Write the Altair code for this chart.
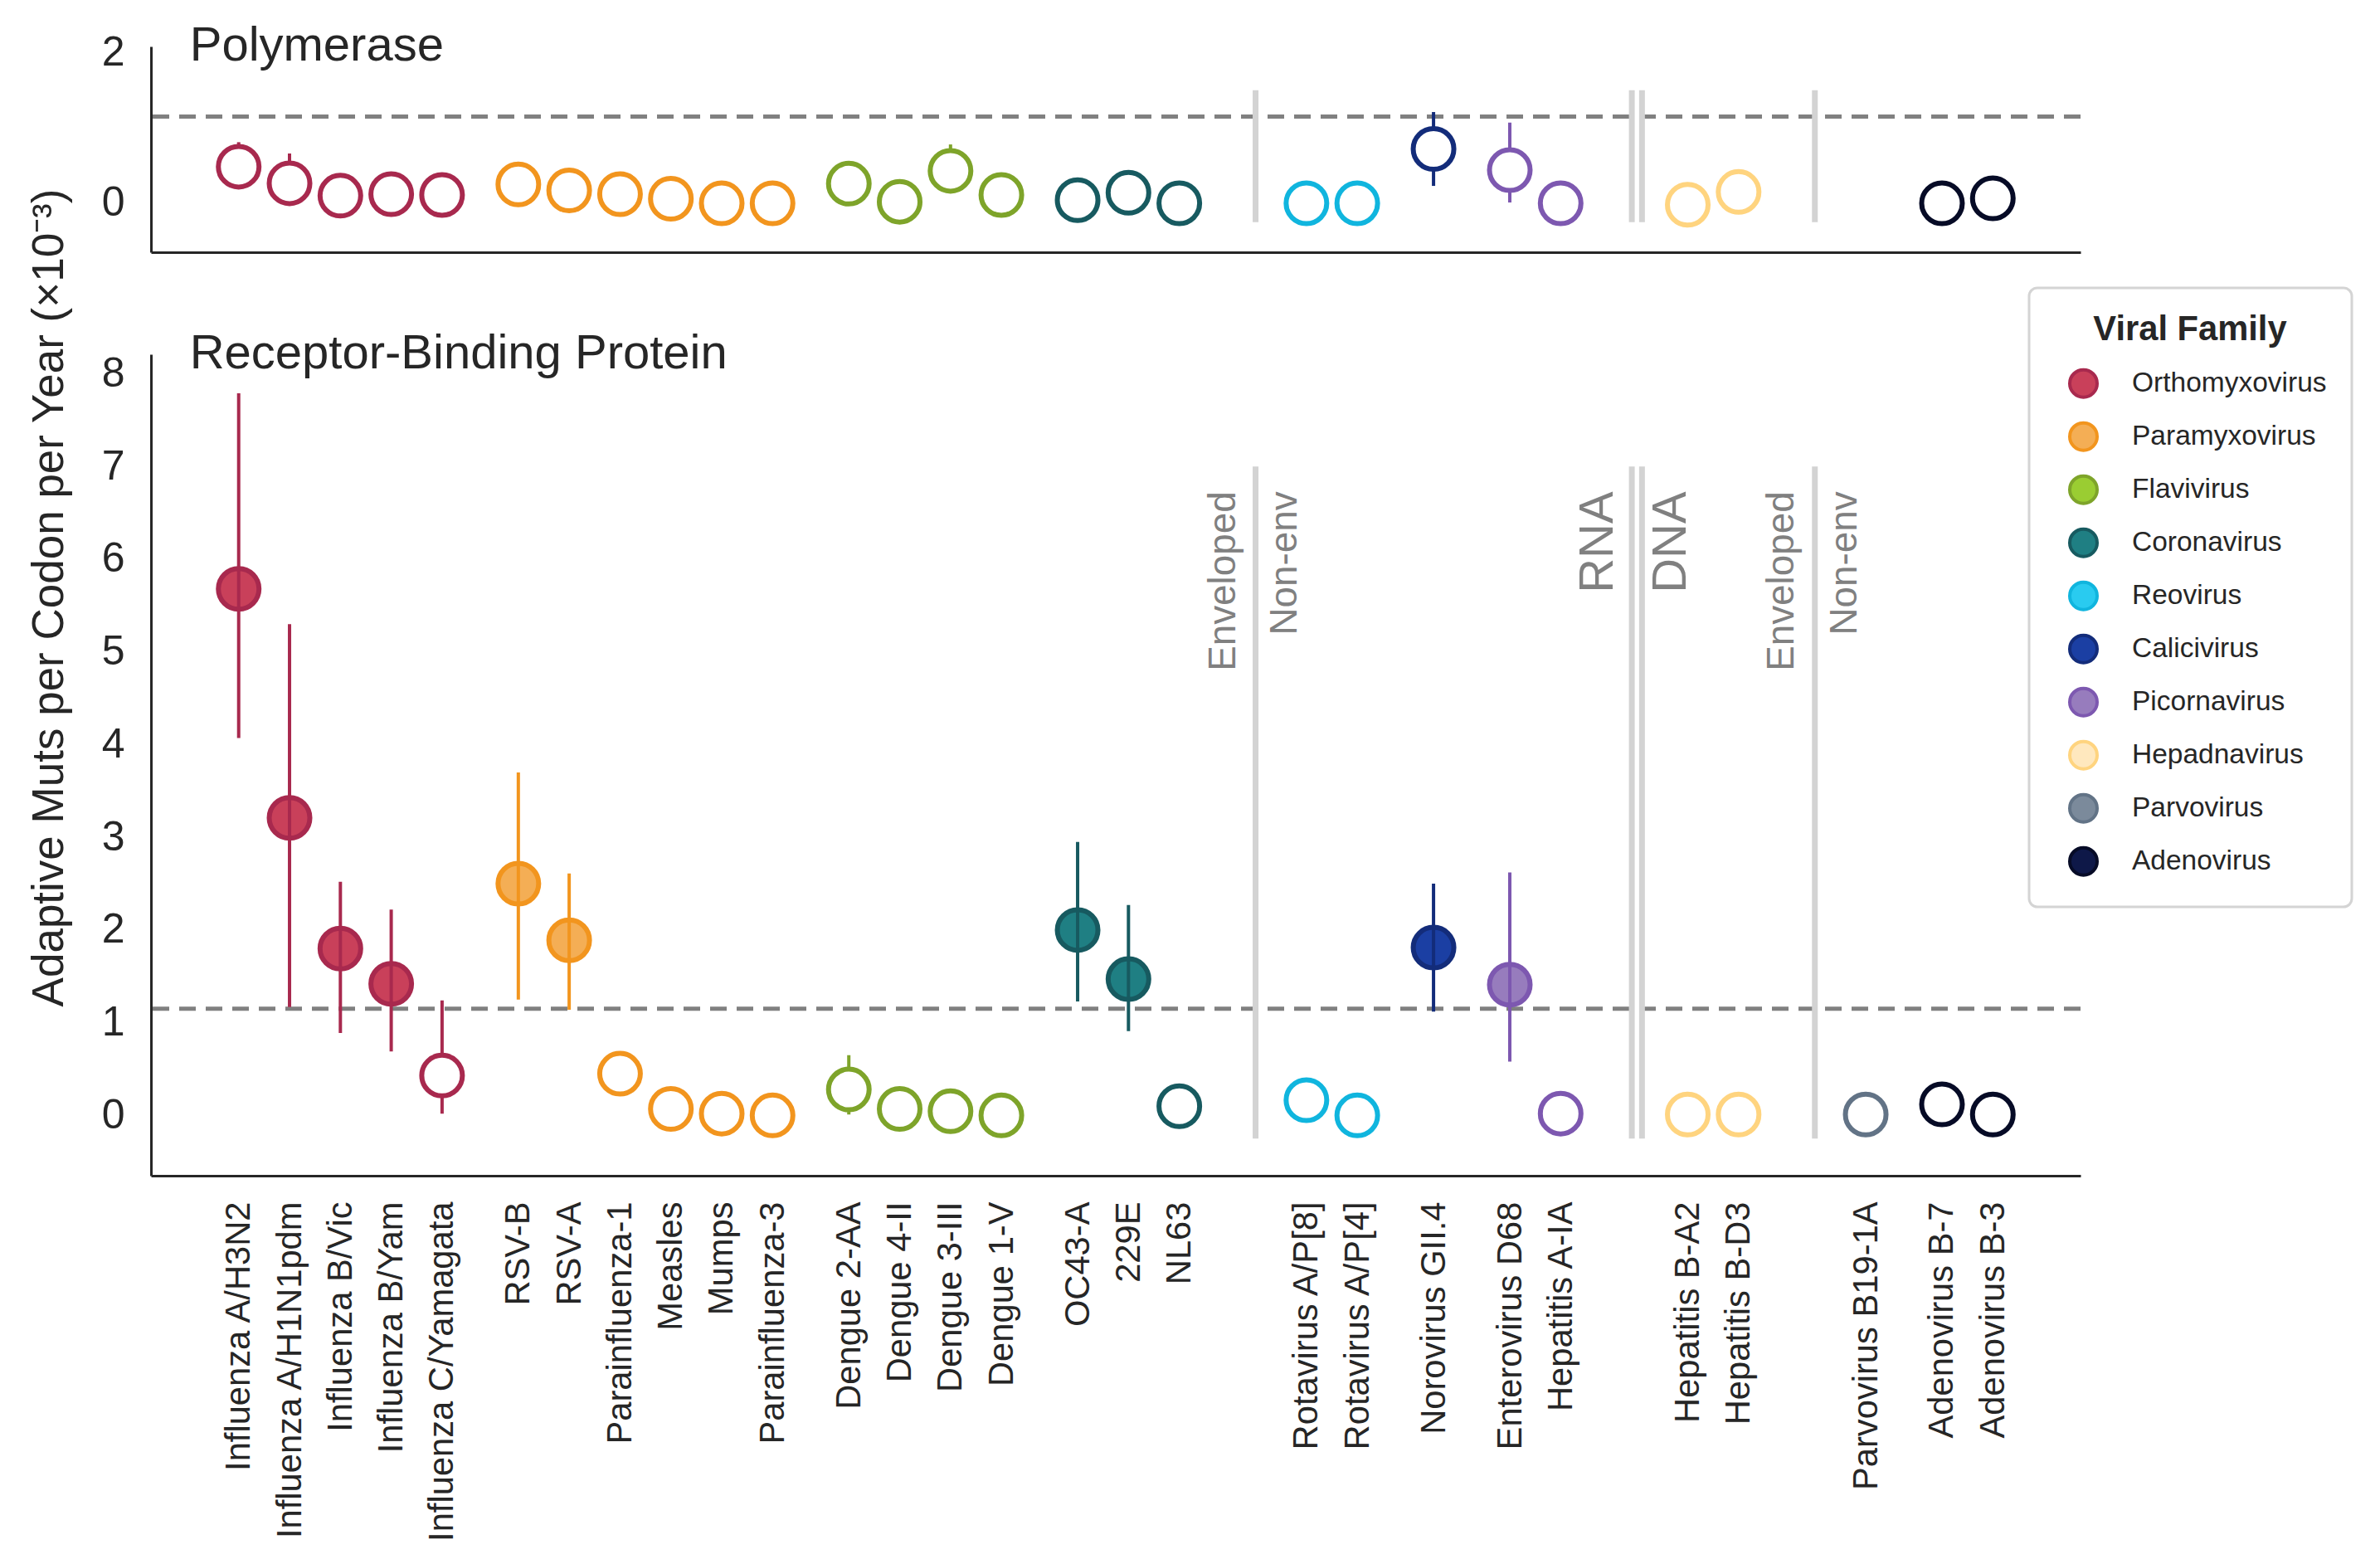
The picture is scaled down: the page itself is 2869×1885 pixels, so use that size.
import json
import altair as alt
import pandas as pd

# ---------------- data ----------------
names = ["Influenza A/H3N2", "Influenza A/H1N1pdm", "Influenza B/Vic", "Influenza B/Yam",
         "Influenza C/Yamagata",
         "RSV-B", "RSV-A", "Parainfluenza-1", "Measles", "Mumps", "Parainfluenza-3",
         "Dengue 2-AA", "Dengue 4-II", "Dengue 3-III", "Dengue 1-V",
         "OC43-A", "229E", "NL63",
         "Rotavirus A/P[8]", "Rotavirus A/P[4]",
         "Norovirus GII.4",
         "Enterovirus D68", "Hepatitis A-IA",
         "Hepatitis B-A2", "Hepatitis B-D3",
         "Parvovirus B19-1A",
         "Adenovirus B-7", "Adenovirus B-3"]
families = ["Orthomyxovirus", "Orthomyxovirus", "Orthomyxovirus", "Orthomyxovirus", "Orthomyxovirus",
            "Paramyxovirus", "Paramyxovirus", "Paramyxovirus", "Paramyxovirus", "Paramyxovirus",
            "Paramyxovirus",
            "Flavivirus", "Flavivirus", "Flavivirus", "Flavivirus",
            "Coronavirus", "Coronavirus", "Coronavirus",
            "Reovirus", "Reovirus",
            "Calicivirus",
            "Picornavirus", "Picornavirus",
            "Hepadnavirus", "Hepadnavirus",
            "Parvovirus",
            "Adenovirus", "Adenovirus"]
positions = [0, 1, 2, 3, 4,
             5.5, 6.5, 7.5, 8.5, 9.5, 10.5,
             12, 13, 14, 15,
             16.5, 17.5, 18.5,
             21, 22,
             23.5,
             25, 26,
             28.5, 29.5,
             32,
             33.5, 34.5]

# Polymerase panel
pol_val = [0.485, 0.265, 0.10, 0.12, 0.11,
           0.25, 0.17, 0.12, 0.06, 0.0, 0.0,
           0.26, 0.02, 0.43, 0.11,
           0.04, 0.14, 0.0,
           0.0, 0.0,
           0.72,
           0.44, 0.0,
           -0.02, 0.15,
           None,
           0.0, 0.065]
pol_lo = [0.25, 0.05, None, None, None,
          None, None, None, None, None, None,
          None, None, 0.20, None,
          None, None, None,
          None, None,
          0.23,
          0.01, None,
          None, None,
          None,
          None, None]
pol_hi = [0.81, 0.66, None, None, None,
          None, None, None, None, None, None,
          None, None, 0.78, None,
          None, None, None,
          None, None,
          1.21,
          1.07, None,
          None, None,
          None,
          None, None]

# Receptor-binding protein panel
rbp_val = [5.68, 3.21, 1.80, 1.42, 0.43,
           2.50, 1.89, 0.45, 0.07, 0.02, 0.0,
           0.28, 0.07, 0.045, 0.0,
           2.00, 1.47, 0.10,
           0.165, 0.0,
           1.81,
           1.41, 0.02,
           0.01, 0.01,
           0.01,
           0.12, 0.01]
rbp_lo = [4.07, 1.17, 0.89, 0.69, 0.02,
          1.25, 1.14, None, None, None, None,
          0.01, None, None, None,
          1.23, 0.91, None,
          None, None,
          1.12,
          0.58, None,
          None, None,
          None,
          None, None]
rbp_hi = [7.79, 5.30, 2.52, 2.22, 1.24,
          3.70, 2.61, None, None, None, None,
          0.65, None, None, None,
          2.95, 2.27, None,
          None, None,
          2.50,
          2.62, None,
          None, None,
          None,
          None, None]
rbp_sig = [True, True, True, True, False,
           True, True, False, False, False, False,
           False, False, False, False,
           True, True, False,
           False, False,
           True,
           True, False,
           False, False,
           False,
           False, False]

family_order = ["Orthomyxovirus", "Paramyxovirus", "Flavivirus", "Coronavirus", "Reovirus",
                "Calicivirus", "Picornavirus", "Hepadnavirus", "Parvovirus", "Adenovirus"]
fill_colors = ["#C9405A", "#F4AE55", "#9ACD32", "#1F7F83", "#29CBF0",
               "#1B3FA3", "#977CBD", "#FFE8BE", "#7B8A9B", "#0E1848"]
stroke_colors = ["#A8294E", "#F2951E", "#7EA42A", "#175A60", "#10B5DE",
                 "#132C7A", "#7D58B0", "#FFD47F", "#627386", "#060B26"]

threshold = [1.15]

# separator lines (x position) and annotation labels
sep_pos = [20.0, 27.4, 27.6, 31.0]
annot_text = ["Enveloped", "Non-env", "RNA", "DNA", "Enveloped", "Non-env"]
annot_pos = [19.37, 20.58, 26.75, 28.18, 30.35, 31.59]
annot_size = [45.8, 45.8, 58, 58, 45.8, 45.8]

# ---------------- frames ----------------
df = pd.DataFrame({
    "name": names, "family": families, "pos": positions,
    "pol": pol_val, "pol_lo": pol_lo, "pol_hi": pol_hi,
    "rbp": rbp_val, "rbp_lo": rbp_lo, "rbp_hi": rbp_hi, "sig": rbp_sig,
})
thr_df = pd.DataFrame({"thr": threshold})
sep_df = pd.DataFrame({"pos": sep_pos, "top_lo": -0.25, "top_hi": 1.5,
                       "bot_lo": -0.25, "bot_hi": 7.0})
annot_df = pd.DataFrame({"t": annot_text, "pos": annot_pos, "fs": annot_size, "y": 6.73})

W = 2326
H_TOP = 248
H_BOT = 990
FONT = "Liberation Sans"
TXT = "#262626"
X_DOMAIN = [-1.725, 36.225]
TOP_DOMAIN = [-0.65, 2.08]
BOT_DOMAIN = [-0.65, 8.21]

x_scale = alt.Scale(domain=X_DOMAIN, nice=False, zero=False)
top_y_scale = alt.Scale(domain=TOP_DOMAIN, nice=False, zero=False)
bot_y_scale = alt.Scale(domain=BOT_DOMAIN, nice=False, zero=False)
fill_scale = alt.Scale(domain=family_order, range=fill_colors)
stroke_scale = alt.Scale(domain=family_order, range=stroke_colors)

label_expr = ("%s[indexof(%s, datum.value)]" % (json.dumps(names), json.dumps(positions)))

x_axis_top = alt.Axis(labels=False, ticks=False, title=None, grid=False, domain=True)
x_axis_bot = alt.Axis(values=positions, labelExpr=label_expr, labelAngle=270,
                      labelAlign="right", labelBaseline="middle",
                      labelFontSize=41.7, labelPadding=31, labelOverlap=False,
                      labelFlush=False, labelBound=False, labelLimit=2000,
                      ticks=False, title=None, grid=False, domain=True)
y_axis_top = alt.Axis(values=[0, 2], title=None, labelFontSize=50, labelPadding=32,
                      ticks=False, grid=False)
y_axis_bot = alt.Axis(values=[0, 1, 2, 3, 4, 5, 6, 7, 8],
                      title="Adaptive Muts per Codon per Year (×10⁻³)",
                      titleFontSize=53, titleFontWeight="normal", titleAngle=270,
                      titleBaseline="bottom", titleAlign="center",
                      titleX=-96, titleY=293, titleLimit=3000,
                      labelFontSize=50, labelPadding=32, ticks=False, grid=False)

legend = alt.Legend(title="Viral Family", orient="none", legendX=2264, legendY=291,
                    symbolType="circle", symbolSize=1089, symbolStrokeWidth=4,
                    labelFontSize=33.5, titleFontSize=41.7, titleFontWeight="bold",
                    titleAnchor="middle", titlePadding=25, rowPadding=15,
                    labelOffset=40, padding=30, symbolOffset=17,
                    labelLimit=2000, titleLimit=2000,
                    fillColor="white", strokeColor="#D4D4D4", cornerRadius=10,
                    labelColor=TXT, titleColor=TXT, labelFont=FONT, titleFont=FONT)


def xenc(axis):
    return alt.X("pos:Q", scale=x_scale, axis=axis)


def panel(yfield, lo, hi, yscale, yaxis, xaxis, sep_lo, sep_hi, title, ytop, bottom):
    base = alt.Chart(df)
    layers = []
    if bottom:
        layers.append(base.transform_filter("datum.sig").mark_point(
            shape="circle", filled=True, size=2401, strokeWidth=6, opacity=1).encode(
            x=xenc(xaxis),
            y=alt.Y(yfield + ":Q", scale=yscale, axis=yaxis),
            fill=alt.Fill("family:N", scale=fill_scale, legend=legend),
            stroke=alt.Stroke("family:N", scale=stroke_scale, legend=legend)))
    thr = alt.Chart(thr_df).mark_rule(color="#808080", strokeWidth=5, strokeDash=[20, 12]).encode(
        y=alt.Y("thr:Q", scale=yscale, axis=yaxis))
    seps = alt.Chart(sep_df).mark_rule(color="#D3D3D3", strokeWidth=7).encode(
        x=xenc(xaxis), y=alt.Y(sep_lo + ":Q", scale=yscale, axis=yaxis), y2=sep_hi + ":Q")
    err = base.mark_rule(strokeWidth=4).encode(
        x=xenc(xaxis),
        y=alt.Y(lo + ":Q", scale=yscale, axis=yaxis), y2=hi + ":Q",
        stroke=alt.Stroke("family:N", scale=stroke_scale))
    open_src = base.transform_filter("!datum.sig") if bottom else base
    open_pts = open_src.mark_point(shape="circle", filled=True, fill="white", size=2401,
                                   strokeWidth=6, opacity=1).encode(
        x=xenc(xaxis),
        y=alt.Y(yfield + ":Q", scale=yscale, axis=yaxis),
        stroke=alt.Stroke("family:N", scale=stroke_scale))
    ttl = alt.Chart(pd.DataFrame({"t": [title], "pos": [-0.963], "y": [ytop]})).mark_text(
        align="left", baseline="middle", fontSize=58, color=TXT, font=FONT).encode(
        x=xenc(xaxis), y=alt.Y("y:Q", scale=yscale, axis=yaxis), text="t:N")
    layers = [thr, seps] + layers
    if bottom:
        ann = alt.Chart(annot_df).mark_text(angle=270, align="right", baseline="middle",
                                            color="#808080", font=FONT).encode(
            x=xenc(xaxis), y=alt.Y("y:Q", scale=yscale, axis=yaxis), text="t:N",
            size=alt.Size("fs:Q", scale=None, legend=None))
        layers.append(ann)
    layers += [err, open_pts, ttl]
    return alt.layer(*layers).properties(width=W, height=(H_BOT if bottom else H_TOP))


top = panel("pol", "pol_lo", "pol_hi", top_y_scale, y_axis_top, x_axis_top,
            "top_lo", "top_hi", "Polymerase", TOP_DOMAIN[1], False)
bot = panel("rbp", "rbp_lo", "rbp_hi", bot_y_scale, y_axis_bot, x_axis_bot,
            "bot_lo", "bot_hi", "Receptor-Binding Protein", BOT_DOMAIN[1], True)

chart = alt.vconcat(top, bot, spacing=123, bounds="flush").resolve_scale(
    y="independent"
).properties(
    padding={"left": 24, "top": 19, "right": 0, "bottom": 0}
).configure(font=FONT).configure_view(stroke=None).configure_axis(
    domainColor=TXT, domainWidth=3, labelColor=TXT, titleColor=TXT,
    labelFont=FONT, titleFont=FONT
).configure_legend(strokeWidth=3)

chart.save("out.html", embed_options={"renderer": "svg", "actions": False})
